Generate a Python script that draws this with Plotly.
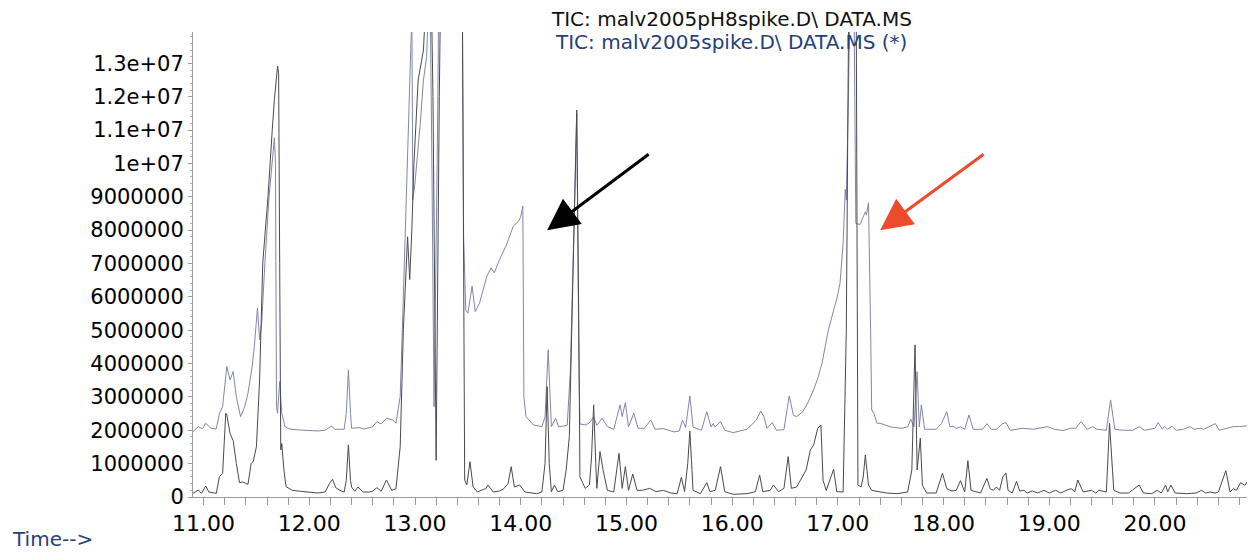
import plotly.graph_objects as go

# ---------------- data (time in min, abundance in millions of counts) ----------------
lower_time = [10.90, 10.95, 10.98, 11.02, 11.05, 11.12, 11.15, 11.18, 11.21, 11.22, 11.25, 11.28, 11.31, 11.34,
              11.37, 11.42, 11.45, 11.47, 11.50, 11.53, 11.56, 11.61, 11.65, 11.67, 11.70, 11.71, 11.72, 11.73,
              11.74, 11.76, 11.78, 11.84, 11.92, 12.00, 12.08, 12.15, 12.19, 12.22, 12.25, 12.29, 12.33, 12.35,
              12.37, 12.39, 12.40, 12.43, 12.46, 12.51, 12.57, 12.60, 12.64, 12.68, 12.73, 12.78, 12.82, 12.86,
              12.89, 12.93, 12.95, 12.97, 12.99, 13.03, 13.08, 13.12, 13.15, 13.17, 13.20, 13.23, 13.26, 13.44,
              13.46, 13.47, 13.49, 13.52, 13.55, 13.59, 13.64, 13.67, 13.69, 13.74, 13.80, 13.84, 13.88, 13.91,
              13.94, 13.99, 14.04, 14.10, 14.15, 14.20, 14.23, 14.25, 14.27, 14.29, 14.32, 14.35, 14.40, 14.43,
              14.46, 14.49, 14.53, 14.55, 14.56, 14.61, 14.65, 14.67, 14.69, 14.71, 14.72, 14.75, 14.78, 14.82,
              14.88, 14.93, 14.96, 14.99, 15.02, 15.06, 15.10, 15.15, 15.22, 15.28, 15.35, 15.42, 15.48, 15.52,
              15.55, 15.58, 15.60, 15.62, 15.63, 15.70, 15.76, 15.79, 15.84, 15.89, 15.93, 16.01, 16.14, 16.22,
              16.26, 16.29, 16.36, 16.39, 16.44, 16.49, 16.53, 16.56, 16.61, 16.70, 16.74, 16.77, 16.81, 16.84,
              16.86, 16.89, 16.96, 16.99, 17.05, 17.08, 17.11, 17.17, 17.19, 17.22, 17.24, 17.26, 17.29, 17.32,
              17.40, 17.46, 17.56, 17.66, 17.70, 17.73, 17.75, 17.78, 17.80, 17.84, 17.93, 17.99, 18.03, 18.08,
              18.12, 18.16, 18.20, 18.23, 18.26, 18.35, 18.41, 18.44, 18.47, 18.50, 18.53, 18.56, 18.59, 18.61,
              18.65, 18.69, 18.72, 18.76, 18.79, 18.84, 18.89, 18.95, 19.00, 19.06, 19.11, 19.16, 19.21, 19.24,
              19.27, 19.32, 19.40, 19.44, 19.47, 19.54, 19.57, 19.61, 19.67, 19.75, 19.85, 19.89, 19.97, 20.02,
              20.06, 20.10, 20.12, 20.15, 20.19, 20.30, 20.39, 20.44, 20.48, 20.52, 20.57, 20.60, 20.67, 20.71,
              20.74, 20.77, 20.81, 20.85, 20.89, 20.93]
lower_abund_m = [0.11, 0.21, 0.11, 0.33, 0.15, 0.11, 0.61, 0.71, 2.51, 2.46, 1.91, 1.69, 1.01, 0.43,
                 0.45, 0.38, 1.00, 1.07, 1.51, 3.51, 7.02, 9.02, 11.02, 11.92, 12.92, 12.70, 7.00, 1.41,
                 1.60, 0.81, 0.31, 0.20, 0.17, 0.15, 0.12, 0.15, 0.40, 0.53, 0.28, 0.20, 0.15, 0.50,
                 1.56, 0.50, 0.30, 0.17, 0.30, 0.15, 0.15, 0.18, 0.28, 0.17, 0.51, 0.20, 0.25, 1.51,
                 5.02, 7.80, 6.52, 8.00, 10.00, 12.50, 13.40, 16.00, 16.00, 12.00, 1.10, 12.00, 20.00, 20.00,
                 3.00, 0.51, 0.36, 1.06, 0.30, 0.15, 0.22, 0.25, 0.36, 0.15, 0.18, 0.25, 0.40, 0.91,
                 0.30, 0.36, 0.15, 0.12, 0.10, 0.15, 1.00, 3.31, 1.00, 0.16, 0.36, 0.16, 0.20, 0.81,
                 1.81, 6.00, 11.60, 5.00, 0.61, 0.26, 0.36, 1.20, 2.76, 1.00, 0.26, 1.36, 0.80, 0.20,
                 0.15, 1.31, 0.26, 0.91, 0.20, 0.69, 0.20, 0.20, 0.26, 0.16, 0.20, 0.12, 0.10, 0.59,
                 0.16, 1.00, 1.98, 0.80, 0.20, 0.10, 0.43, 0.16, 0.20, 0.91, 0.16, 0.08, 0.10, 0.16,
                 0.66, 0.16, 0.20, 0.36, 0.16, 0.26, 1.21, 0.26, 0.30, 0.81, 1.41, 1.55, 2.06, 2.16,
                 0.50, 0.20, 0.83, 0.16, 0.15, 5.00, 18.00, 18.00, 0.36, 0.30, 0.60, 1.26, 0.36, 0.20,
                 0.15, 0.12, 0.10, 0.15, 0.81, 4.56, 0.81, 1.76, 0.35, 0.12, 0.12, 0.71, 0.25, 0.18,
                 0.20, 0.49, 0.15, 1.09, 0.20, 0.12, 0.56, 0.25, 0.20, 0.30, 0.20, 0.60, 0.72, 0.20,
                 0.12, 0.47, 0.18, 0.20, 0.12, 0.18, 0.12, 0.20, 0.12, 0.20, 0.12, 0.20, 0.25, 0.15,
                 0.51, 0.15, 0.20, 0.12, 0.20, 0.15, 2.21, 0.20, 0.12, 0.12, 0.36, 0.12, 0.10, 0.20,
                 0.12, 0.36, 0.15, 0.36, 0.12, 0.10, 0.12, 0.20, 0.12, 0.15, 0.12, 0.15, 0.79, 0.15,
                 0.25, 0.20, 0.43, 0.35, 0.53, 0.59]

upper_time = [10.90, 10.95, 10.99, 11.02, 11.07, 11.12, 11.15, 11.18, 11.22, 11.25, 11.28, 11.31, 11.35, 11.39,
              11.42, 11.46, 11.48, 11.51, 11.53, 11.55, 11.58, 11.62, 11.67, 11.68, 11.69, 11.70, 11.72, 11.74,
              11.77, 11.81, 11.90, 12.00, 12.08, 12.15, 12.21, 12.24, 12.33, 12.35, 12.37, 12.39, 12.40, 12.47,
              12.52, 12.57, 12.60, 12.64, 12.68, 12.73, 12.79, 12.82, 12.86, 12.89, 12.92, 12.95, 12.97, 12.98,
              13.00, 13.05, 13.08, 13.11, 13.14, 13.16, 13.18, 13.21, 13.24, 13.44, 13.46, 13.48, 13.50, 13.54,
              13.57, 13.61, 13.68, 13.72, 13.75, 13.80, 13.86, 13.93, 13.98, 14.00, 14.02, 14.03, 14.05, 14.12,
              14.20, 14.23, 14.26, 14.29, 14.33, 14.36, 14.40, 14.44, 14.47, 14.50, 14.53, 14.55, 14.56, 14.61,
              14.65, 14.69, 14.72, 14.77, 14.82, 14.88, 14.94, 14.96, 14.99, 15.02, 15.07, 15.11, 15.17, 15.23,
              15.27, 15.35, 15.45, 15.50, 15.53, 15.56, 15.60, 15.63, 15.71, 15.76, 15.80, 15.82, 15.84, 15.89,
              15.93, 16.01, 16.14, 16.23, 16.27, 16.30, 16.33, 16.38, 16.42, 16.49, 16.54, 16.58, 16.61, 16.67,
              16.72, 16.77, 16.81, 16.85, 16.91, 16.96, 16.99, 17.02, 17.05, 17.07, 17.08, 17.10, 17.12, 17.15,
              17.17, 17.21, 17.24, 17.26, 17.27, 17.29, 17.31, 17.32, 17.34, 17.37, 17.40, 17.50, 17.60, 17.66,
              17.69, 17.72, 17.75, 17.77, 17.79, 17.82, 17.93, 17.98, 18.03, 18.06, 18.09, 18.12, 18.16, 18.20,
              18.24, 18.28, 18.37, 18.41, 18.45, 18.50, 18.56, 18.59, 18.63, 18.75, 18.85, 18.98, 19.05, 19.13,
              19.20, 19.25, 19.30, 19.36, 19.41, 19.45, 19.54, 19.58, 19.62, 19.70, 19.79, 19.85, 19.90, 20.00,
              20.03, 20.07, 20.09, 20.12, 20.16, 20.20, 20.27, 20.33, 20.37, 20.43, 20.46, 20.57, 20.61, 20.74,
              20.80, 20.86, 20.93]
upper_abund_m = [1.96, 2.11, 2.04, 2.21, 2.06, 2.04, 2.51, 2.71, 3.91, 3.51, 3.76, 3.01, 2.41, 2.71,
                 3.11, 3.91, 4.51, 5.67, 4.71, 5.21, 7.02, 9.02, 10.77, 10.02, 2.71, 2.51, 3.46, 2.51,
                 2.11, 2.04, 2.01, 2.00, 1.98, 2.00, 2.13, 2.03, 2.03, 2.50, 3.81, 2.50, 2.06, 2.08,
                 2.04, 2.08, 2.11, 2.26, 2.19, 2.36, 2.31, 2.21, 3.01, 6.02, 9.02, 12.02, 14.50, 8.92,
                 9.42, 11.20, 12.50, 13.20, 16.00, 10.00, 2.71, 10.00, 20.00, 20.00, 7.80, 5.60, 5.51, 6.32,
                 5.56, 5.81, 6.62, 6.87, 6.72, 7.12, 7.52, 8.12, 8.27, 8.40, 8.72, 3.01, 2.41, 2.16,
                 2.11, 2.40, 4.41, 2.11, 2.36, 2.10, 2.12, 2.15, 3.81, 8.00, 11.50, 4.00, 2.19, 2.16,
                 2.22, 2.40, 2.15, 2.36, 2.11, 2.03, 2.76, 2.41, 2.83, 2.10, 2.51, 2.06, 2.06, 2.31,
                 2.03, 2.05, 1.95, 1.98, 2.31, 2.08, 3.03, 2.10, 2.00, 2.56, 2.10, 2.20, 2.10, 2.26,
                 2.00, 1.93, 2.03, 2.31, 2.58, 2.41, 2.06, 2.23, 2.00, 2.02, 3.03, 2.45, 2.41, 2.56,
                 2.85, 3.21, 3.55, 4.01, 5.00, 5.60, 5.94, 6.40, 7.60, 9.22, 8.90, 12.00, 16.00, 16.00,
                 8.20, 8.17, 8.40, 8.55, 8.45, 8.82, 5.00, 2.61, 2.51, 2.21, 2.21, 2.10, 2.06, 2.10,
                 2.33, 2.10, 3.76, 2.10, 2.76, 2.03, 2.03, 2.20, 2.56, 2.10, 2.12, 2.06, 2.10, 2.03,
                 2.46, 2.03, 2.03, 2.20, 2.03, 2.03, 2.20, 2.23, 2.00, 2.06, 2.03, 2.11, 2.03, 1.99,
                 2.06, 2.06, 2.26, 2.03, 2.11, 2.03, 2.00, 2.91, 2.03, 2.00, 2.00, 2.11, 2.00, 2.06,
                 2.23, 2.03, 2.12, 2.03, 2.12, 2.00, 2.03, 2.11, 2.03, 2.06, 2.03, 2.20, 2.00, 2.11,
                 2.11, 2.13, 2.22]

y_tick_vals = [0, 1e6, 2e6, 3e6, 4e6, 5e6, 6e6, 7e6, 8e6, 9e6, 1e7, 1.1e7, 1.2e7, 1.3e7]
y_tick_text = ["0", "1000000", "2000000", "3000000", "4000000", "5000000", "6000000", "7000000",
               "8000000", "9000000", "1e+07", "1.1e+07", "1.2e+07", "1.3e+07"]
x_tick_vals = [11, 12, 13, 14, 15, 16, 17, 18, 19, 20]
x_tick_text = ["11.00", "12.00", "13.00", "14.00", "15.00", "16.00", "17.00", "18.00", "19.00", "20.00"]

title_black = "TIC: malv2005pH8spike.D\\ DATA.MS"
title_blue = "TIC: malv2005spike.D\\ DATA.MS (*)"

# ---------------- figure ----------------
# The page body keeps its default 8px margin, so the figure is sized to fit the
# 1255x552 window from an offset of (8, 8).
FONT = "DejaVu Sans"
fig = go.Figure()
fig.add_trace(go.Scatter(x=upper_time, y=[v * 1e6 for v in upper_abund_m], mode="lines",
                         line=dict(color="#8385aa", width=1), name=title_blue, showlegend=False))
fig.add_trace(go.Scatter(x=lower_time, y=[v * 1e6 for v in lower_abund_m], mode="lines",
                         line=dict(color="#4a4a4a", width=1), name=title_black, showlegend=False))

fig.update_layout(
    width=1247, height=544,
    margin=dict(l=185, r=0, t=24, b=55),
    paper_bgcolor="white", plot_bgcolor="white",
    font=dict(family=FONT, color="black"),
)
fig.update_xaxes(range=[10.9, 20.946], showgrid=False, zeroline=False,
                 showline=True, linecolor="#9a9a9a", linewidth=1,
                 tickmode="array", tickvals=x_tick_vals, ticktext=x_tick_text,
                 ticks="outside", ticklen=7, tickcolor="#9a9a9a", tickwidth=1,
                 tickfont=dict(family=FONT, size=22, color="black"),
                 minor=dict(dtick=0.2, tick0=11, ticks="outside", ticklen=7,
                            tickcolor="#9a9a9a", tickwidth=1, showgrid=False))
fig.update_yaxes(range=[0, 1.394e7], showgrid=False, zeroline=False,
                 showline=True, linecolor="#9a9a9a", linewidth=1,
                 tickmode="array", tickvals=y_tick_vals, ticktext=y_tick_text,
                 ticks="outside", ticklen=4, tickcolor="#9a9a9a", tickwidth=1,
                 tickfont=dict(family=FONT, size=21, color="black"),
                 minor=dict(dtick=2e5, tick0=0, ticks="outside", ticklen=2,
                            tickcolor="#b0b0b0", tickwidth=1, showgrid=False))

annotations = [
    dict(text=title_black, xref="paper", yref="paper", x=0.5066, y=1.0290,
         xanchor="center", yanchor="middle", showarrow=False,
         font=dict(family=FONT, size=20, color="#111111")),
    dict(text=title_blue, xref="paper", yref="paper", x=0.5066, y=0.9785,
         xanchor="center", yanchor="middle", showarrow=False,
         font=dict(family=FONT, size=20, color="#26407a")),
    dict(text="Time-->", xref="paper", yref="paper", x=-0.1723, y=-0.0903,
         xanchor="left", yanchor="middle", showarrow=False,
         font=dict(family=FONT, size=20, color="#26407a")),
    dict(text="", x=14.25, y=8.0e6, xref="x", yref="y", ax=103, ay=-77,
         showarrow=True, arrowhead=2, arrowsize=2.1, arrowwidth=3, arrowcolor="black"),
    dict(text="", x=17.40, y=8.0e6, xref="x", yref="y", ax=105, ay=-77,
         showarrow=True, arrowhead=2, arrowsize=2.1, arrowwidth=3, arrowcolor="#ee4a2c"),
]
fig.update_layout(annotations=annotations)

fig.write_html("out.html")
